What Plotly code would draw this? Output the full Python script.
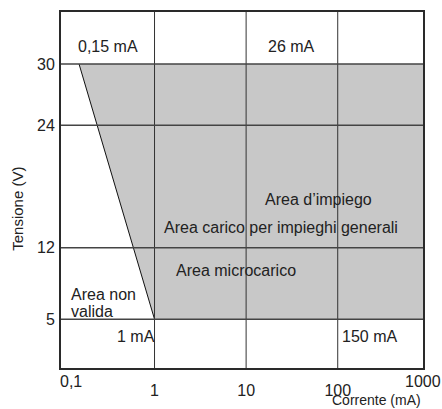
import plotly.graph_objects as go

# ── DATA ────────────────────────────────────────────────────
volt_ticks   = [5, 12, 24, 30]
curr_grid    = [1, 10, 100]
curr_labels  = ["1", "10", "100"]

# operating area outline (current mA, voltage V)
area_curr = [0.15, 1000, 1000, 1]
area_volt = [30, 30, 5, 5]

# left limit of the usable area
limit_curr = [0.15, 1]
limit_volt = [30, 5]

FONT = "Liberation Sans, Arial, sans-serif"
GRID = "#333333"

fig = go.Figure()

fig.add_trace(go.Scatter(
    x=area_curr, y=area_volt,
    fill="toself", fillcolor="#c8c8c8",
    mode="none", hoverinfo="skip", showlegend=False
))

fig.add_trace(go.Scatter(
    x=limit_curr, y=limit_volt,
    mode="lines", line=dict(color="#111111", width=1),
    hoverinfo="skip", showlegend=False
))

# gridlines drawn above the fill
for c in curr_grid:
    fig.add_shape(type="line", xref="x", yref="paper", x0=c, x1=c, y0=0, y1=1,
                  line=dict(color=GRID, width=1), layer="above")
for v in volt_ticks:
    fig.add_shape(type="line", xref="paper", yref="y", x0=0, x1=1, y0=v, y1=v,
                  line=dict(color="#444444", width=1.5), layer="above")

txt = dict(family=FONT, size=16, color="#222222")
small = dict(family=FONT, size=15, color="#222222")
tiny = dict(family=FONT, size=14, color="#222222")
notes = [
    dict(x=-0.51, y=31.7, text="0,15 mA"),
    dict(x=1.49, y=31.7, text="26 mA"),
    dict(x=0, y=3.27, text="1 mA", xanchor="right", xshift=2),
    dict(x=2, y=3.27, text="150 mA", xanchor="left", xshift=2),
    dict(x=-0.933, y=7.45, text="Area non", xanchor="left"),
    dict(x=-0.933, y=5.8, text="valida", xanchor="left"),
    dict(x=1.785, y=16.7, text="Area d\u2019impiego"),
    dict(x=1.376, y=13.98, text="Area carico per impieghi generali"),
    dict(x=0.89, y=9.82, text="Area microcarico"),
]
for n in notes:
    n.setdefault("xanchor", "center")
    fig.add_annotation(xref="x", yref="y", showarrow=False, yanchor="middle",
                       font=txt, **n)

# end labels of the current axis and axis titles
fig.add_annotation(xref="paper", yref="paper", x=(71 - 61) / 362, y=-0.039,
                   text="0,1", showarrow=False, font=txt,
                   xanchor="center", yanchor="middle")
fig.add_annotation(xref="paper", yref="paper", x=1, y=-0.039,
                   text="1000", showarrow=False, font=txt,
                   xanchor="center", yanchor="middle")
fig.add_annotation(xref="paper", yref="paper", x=1, y=-0.09, xanchor="right",
                   text="Corrente (mA)", showarrow=False, font=tiny, yanchor="middle")
fig.add_annotation(xref="paper", yref="paper", x=-0.119, y=0.447, textangle=-90,
                   text="Tensione (V)", showarrow=False, font=small,
                   xanchor="center", yanchor="middle")

fig.update_layout(
    width=442, height=409,
    margin=dict(l=61, r=19, t=10, b=39),
    paper_bgcolor="white", plot_bgcolor="white",
    font=txt,
    xaxis=dict(
        type="log", range=[-1.021, 2.931],
        tickvals=curr_grid, ticktext=curr_labels,
        showgrid=False, zeroline=False, ticks="",
        showline=True, mirror=True, linecolor="#2a2a2a", linewidth=2,
        ticklabelstandoff=7, tickfont=txt
    ),
    yaxis=dict(
        range=[0.22, 35.1],
        tickvals=volt_ticks,
        showgrid=False, zeroline=False, ticks="",
        showline=True, mirror=True, linecolor="#2a2a2a", linewidth=2,
        ticklabelstandoff=1, tickfont=txt
    )
)

fig.write_html("out.html", config={"displayModeBar": False},
               post_script="document.body.style.margin = '0';")
